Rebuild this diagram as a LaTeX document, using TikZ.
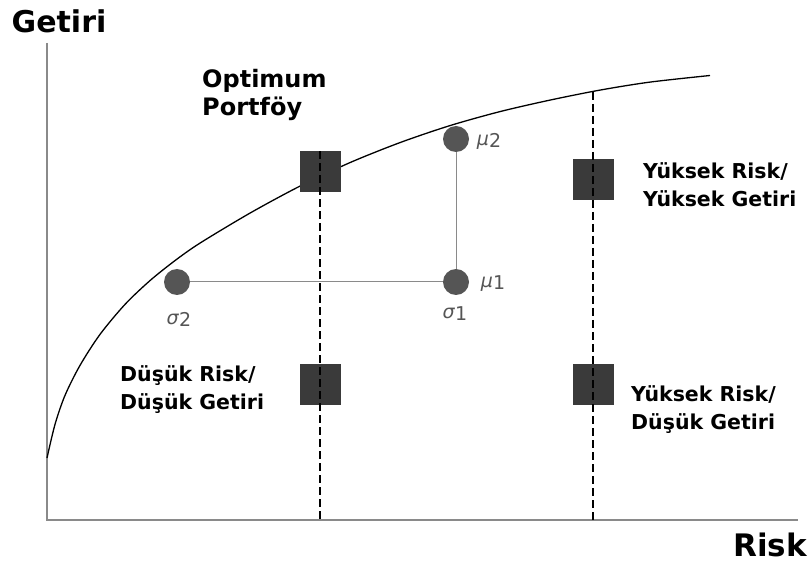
\documentclass[tikz,border=0pt]{standalone}
\usepackage{fontspec}
\setmainfont{DejaVu Sans}
\usepackage{tikz}
\usetikzlibrary{positioning,calc}
\definecolor{sqgray}{HTML}{3A3A3A}
\definecolor{dotgray}{HTML}{555555}
\definecolor{axisgray}{HTML}{8A8A8A}

\begin{document}
\begin{tikzpicture}[x=1pt, y=-1pt,
    sqbox/.style={rectangle, fill=sqgray, minimum size=41pt, inner sep=0pt},
    dot/.style={circle, fill=dotgray, minimum size=26pt, inner sep=0pt},
    note/.style={font=\bfseries\fontsize{20.5}{28.5}\selectfont, align=left, anchor=north west, inner sep=0pt},
    greek/.style={font=\fontsize{19}{19}\selectfont, text=dotgray, inner sep=0pt},
    guide/.style={line width=2.4pt, dash pattern=on 8pt off 4pt},
    link/.style={draw=axisgray, line width=1pt},
    axis/.style={draw=axisgray, line width=2pt}
]
    \useasboundingbox (0,0) rectangle (809,564);

    % Axes
    \coordinate (origin) at (47,520);
    \coordinate (ytop) at (47,43);
    \coordinate (xend) at (798,520);
    \draw[axis] (ytop) -- (origin) -- (xend);
    \node[font=\bfseries\fontsize{30}{30}\selectfont, inner sep=0pt] (getiri) at (59,21) {Getiri};
    \node[font=\bfseries\fontsize{31}{31}\selectfont, inner sep=0pt] (risk) at (770,545) {Risk};

    % Efficient frontier
    \draw[line width=1.3pt] plot[smooth, tension=0.5] coordinates {(47,458) (55,424.4) (65,395.4) (80,365.4) (100,334.4) (125,304.4) (150,280.6) (175,260.6) (200,243.1) (250,213.1) (300,186.1) (350,162.6) (400,142.6) (450,125.6) (500,111.6) (550,100.1) (600,90.1) (650,82.1) (710,75.5)};

    % Portfolio squares
    \node[sqbox] (opt) at (320,172) {};
    \node[sqbox] (lowlow) at (320,384) {};
    \node[sqbox] (highhigh) at (593,180) {};
    \node[sqbox] (highlow) at (593,384) {};

    % Dashed guides
    \coordinate (rtop) at (593,92);
    \draw[guide] (opt.north) -- (opt.north |- origin);
    \draw[guide] (rtop) -- (rtop |- origin);

    % Means and deviations
    \node[dot] (s2) at (177,282) {};
    \node[dot] (m1) at (456,282) {};
    \node[dot] (m2) at (456,139) {};
    \draw[link] (s2) -- (m1);
    \draw[link] (m1) -- (m2);
    \node[greek] (lm2) at (489,141) {\textit{μ}\raisebox{-2pt}{2}};
    \node[greek] (lm1) at (493,284) {\textit{μ}\raisebox{-2pt}{1}};
    \node[greek] (ls1) at (455,314) {\textit{σ}\raisebox{-2pt}{1}};
    \node[greek] (ls2) at (179,319) {\textit{σ}\raisebox{-2pt}{2}};

    % Labels
    \node[note, font=\bfseries\fontsize{24}{28}\selectfont] (optlbl) at (202,69) {Optimum\\Portföy};
    \node[note] (hhlbl) at (643,162) {Yüksek Risk/\\Yüksek Getiri};
    \node[note] (lllbl) at (120,365) {Düşük Risk/\\Düşük Getiri};
    \node[note] (hllbl) at (631,385) {Yüksek Risk/\\Düşük Getiri};

\end{tikzpicture}
\end{document}
